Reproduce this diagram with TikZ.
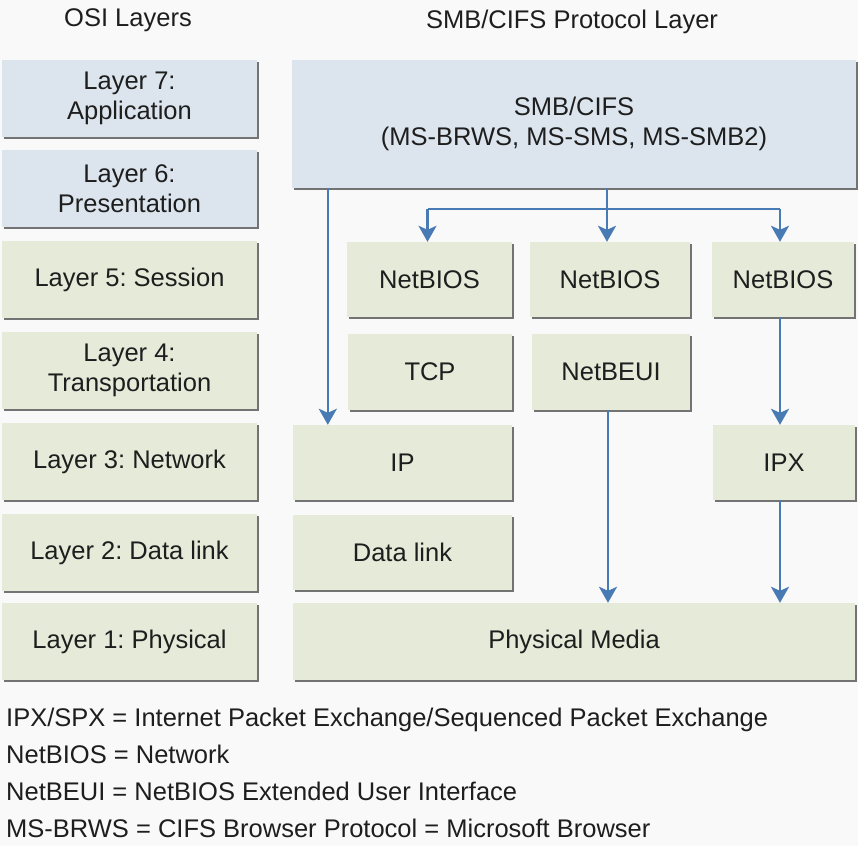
\documentclass[tikz,border=0pt]{standalone}
\usepackage{fontspec}
\setmainfont{Liberation Sans}
\usetikzlibrary{arrows.meta,shadows}
\definecolor{bgc}{RGB}{249,249,249}
\definecolor{bluebox}{RGB}{220,229,238}
\definecolor{greenbox}{RGB}{229,234,217}
\definecolor{shd}{RGB}{115,115,115}
\definecolor{arrc}{RGB}{72,122,180}
\definecolor{txt}{RGB}{30,30,30}
\frenchspacing
\begin{document}
\begin{tikzpicture}[x=1pt,y=-1pt,
  box/.style={rectangle, inner sep=0pt, align=center, text=txt,
    font=\fontsize{25.5}{30}\selectfont,
    drop shadow={shadow xshift=2pt, shadow yshift=-2pt, fill=shd, opacity=1}},
  bbox/.style={box, fill=bluebox},
  gbox/.style={box, fill=greenbox},
  lbl/.style={text=txt, font=\fontsize{25.5}{30}\selectfont, inner sep=0pt},
  arr/.style={draw=arrc, line width=2.6pt, -{Stealth[length=16pt,width=18pt,inset=4pt]}},
  ln/.style={draw=arrc, line width=2.6pt}]
\fill[bgc] (0,0) rectangle (858,846);
\useasboundingbox (0,0) rectangle (858,846);

% titles
\node[lbl, anchor=base] (t1) at (128,26) {OSI Layers};
\node[lbl, anchor=base] (t2) at (572,28) {SMB/CIFS Protocol Layer};

% OSI layers
\node[bbox, minimum width=255pt, minimum height=77pt] (l7) at (129.5,98.5) {Layer 7:\\Application};
\node[bbox, minimum width=255pt, minimum height=77pt] (l6) at (129.5,188.5) {Layer 6:\\Presentation};
\node[gbox, minimum width=255pt, minimum height=77pt] (l5) at (129.5,279.5) {Layer 5: Session};
\node[gbox, minimum width=255pt, minimum height=77pt] (l4) at (129.5,370.5) {Layer 4:\\Transportation};
\node[gbox, minimum width=255pt, minimum height=77pt] (l3) at (129.5,461.5) {Layer 3: Network};
\node[gbox, minimum width=255pt, minimum height=77pt] (l2) at (129.5,552.5) {Layer 2: Data link};
\node[gbox, minimum width=255pt, minimum height=77pt] (l1) at (129.5,641.5) {Layer 1: Physical};

% protocol stack
\node[bbox, minimum width=564pt, minimum height=128pt] (smb) at (574,124) {SMB/CIFS\\(MS-BRWS, MS-SMS, MS-SMB2)};
\node[gbox, minimum width=165pt, minimum height=75pt] (nb1) at (429.5,279.5) {NetBIOS};
\node[gbox, minimum width=160pt, minimum height=75pt] (nb2) at (610,279.5) {NetBIOS};
\node[gbox, minimum width=142pt, minimum height=75pt] (nb3) at (783,279.5) {NetBIOS};
\node[gbox, minimum width=164pt, minimum height=76pt] (tcp) at (430,372) {TCP};
\node[gbox, minimum width=158pt, minimum height=76pt] (nbe) at (611,372) {NetBEUI};
\node[gbox, minimum width=219pt, minimum height=75pt] (ip) at (402.5,462.5) {IP};
\node[gbox, minimum width=142pt, minimum height=75pt] (ipx) at (784,462.5) {IPX};
\node[gbox, minimum width=219pt, minimum height=75pt] (dl) at (402.5,552.5) {Data link};
\node[gbox, minimum width=562pt, minimum height=77pt] (phys) at (574,641.5) {Physical Media};

% connectors
\coordinate (bus) at (0,209);
\draw[arr] ([xshift=36pt]smb.south west) -- ([xshift=35pt]ip.north west);
\draw[arr] ([xshift=-3pt]nb2.north |- smb.south) -- ([xshift=-3pt]nb2.north);
\draw[ln] ([xshift=-2pt]nb1.north |- bus) -- ([xshift=-3pt]nb3.north |- bus);
\draw[arr] ([xshift=-2pt]nb1.north |- bus) -- ([xshift=-2pt]nb1.north);
\draw[arr] ([xshift=-3pt]nb3.north |- bus) -- ([xshift=-3pt]nb3.north);
\draw[arr] ([xshift=-3pt]nb3.south) -- ([xshift=-4pt]ipx.north);
\draw[arr] ([xshift=-3pt]nbe.south) -- ([xshift=-3pt]phys.north -| nbe.south);
\draw[arr] ([xshift=-4pt]ipx.south) -- ([xshift=-4pt]phys.north -| ipx.south);

% legend
\node[lbl, anchor=base west] (g1) at (6,726) {IPX/SPX = Internet Packet Exchange/Sequenced Packet Exchange};
\node[lbl, anchor=base west] (g2) at (6,763.5) {NetBIOS = Network};
\node[lbl, anchor=base west] (g3) at (6,800.5) {NetBEUI = NetBIOS Extended User Interface};
\node[lbl, anchor=base west] (g4) at (6,837.5) {MS-BRWS = CIFS Browser Protocol = Microsoft Browser};
\end{tikzpicture}
\end{document}
